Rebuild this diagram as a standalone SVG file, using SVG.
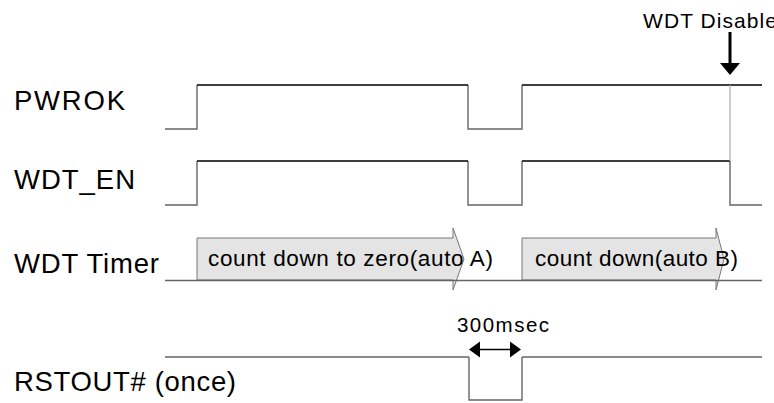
<svg xmlns="http://www.w3.org/2000/svg" width="774" height="403" viewBox="0 0 774 403">
<style>
text{font-family:"Liberation Sans",Arial,Helvetica,sans-serif;fill:#000}
.lbl{font-size:27.5px}
.sm{font-size:22.5px}
.hi{stroke:#000;stroke-width:1.4;fill:none}
.lo{stroke:#666;stroke-width:1.4;fill:none}
.box{fill:#e4e4e4;stroke:#777;stroke-width:1}
</style>
<rect width="774" height="403" fill="#fff"/>
<g id="pwrok">
<text class="lbl" x="14" y="110" textLength="111" lengthAdjust="spacing">PWROK</text>
<path class="lo" d="M165,129H197V85M468,85V129H522V85"/>
<path class="hi" d="M197,85H468M522,85H762"/>
</g>
<g id="wdt_en">
<text class="lbl" x="14" y="189" textLength="121" lengthAdjust="spacing">WDT_EN</text>
<path class="lo" d="M165,205H197V161M468,161V205H522V161M730,161V205H762"/>
<path class="hi" d="M197,161H468M522,161H730"/>
</g>
<g id="wdt_timer">
<text class="lbl" x="14" y="273" textLength="145" lengthAdjust="spacing">WDT Timer</text>
<polygon class="box" points="197,238 453,238 453,228 464,259 453,290 453,280 197,280"/>
<polygon class="box" points="522,238 716,238 716,228 724,259 716,290 716,280 522,280"/>
<path class="lo" d="M165,280.5H762"/>
<text class="sm" x="208" y="266" textLength="285" lengthAdjust="spacing">count down to zero(auto A)</text>
<text class="sm" x="535" y="266" textLength="203" lengthAdjust="spacing">count down(auto B)</text>
</g>
<g id="rstout">
<text class="lbl" x="14" y="391" textLength="222" lengthAdjust="spacing">RSTOUT# (once)</text>
<path class="lo" d="M469,357V400H522V357"/>
<path class="lo" d="M165,357H469M522,357H762"/>
</g>
<g id="connectors">
<line x1="730" y1="85" x2="730" y2="161" stroke="#aaa" stroke-width="1.2"/>
<text x="643" y="28" font-size="21" textLength="134" lengthAdjust="spacing">WDT Disable</text>
<rect x="728.5" y="32" width="3" height="32" fill="#000"/>
<polygon points="720,63 740,63 730,75" fill="#000"/>
<text x="457" y="332" font-size="20.5" textLength="92" lengthAdjust="spacing">300msec</text>
<line x1="476" y1="349.5" x2="514" y2="349.5" stroke="#000" stroke-width="1.4"/>
<polygon points="469,349.5 480,341.5 480,357.5" fill="#000"/>
<polygon points="521,349.5 510,341.5 510,357.5" fill="#000"/>
</g>
</svg>
